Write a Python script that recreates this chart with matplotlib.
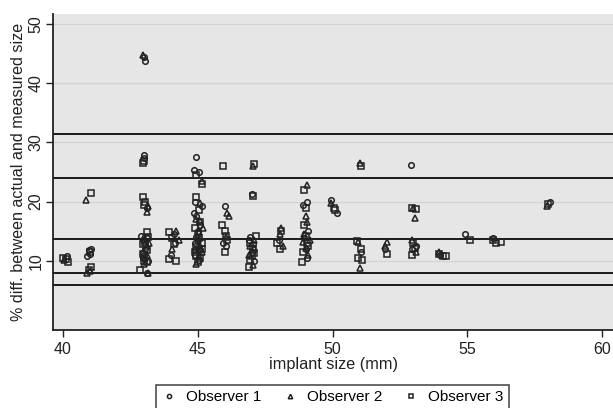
import matplotlib
matplotlib.use("Agg")
import matplotlib.pyplot as plt
from matplotlib.lines import Line2D

plt.rcParams['font.family'] = ['Liberation Sans', 'DejaVu Sans']

# Observer 1 (circles)
obs1_x = [40.15, 40.95, 41.0, 40.9, 41.05,
          43.0, 43.05, 43.0, 43.0, 43.1, 42.95, 43.05, 43.0, 43.15, 43.1, 42.9, 43.05, 42.95, 43.1,
          44.0, 44.15, 44.1,
          44.95, 44.85, 45.05, 44.9, 44.85, 45.1, 44.95, 45.0, 44.9, 45.05, 45.15, 44.9, 45.0, 45.1, 44.95,
          46.0, 45.95, 46.05,
          47.0, 46.95, 47.0, 47.1, 47.05, 46.9,
          48.0,
          48.9, 49.05, 49.1, 49.0, 48.95, 49.05,
          49.95, 50.15,
          51.05,
          51.95,
          52.9, 52.95, 53.1,
          54.0,
          54.9,
          55.95,
          58.05]
obs1_y = [10.8, 11.8, 11.2, 10.8, 12.0,
          44.5, 43.7, 27.8, 27.3, 19.0, 13.5, 12.0, 11.0, 10.0, 8.0, 14.2, 12.8, 10.5, 13.8,
          11.0, 13.0, 14.5,
          27.5, 25.3, 25.0, 20.0, 18.0, 16.0, 14.0, 12.0, 11.0, 10.2, 19.2, 13.0, 15.0, 11.8, 17.5,
          19.3, 13.0, 12.5,
          21.2, 14.0, 11.5, 10.0, 12.8, 13.5,
          13.5,
          19.5, 20.0, 15.0, 12.0, 13.8, 10.5,
          20.2, 18.0,
          11.5,
          12.0,
          26.2, 12.0, 12.5,
          11.0,
          14.5,
          13.8,
          20.0]

# Observer 2 (triangles)
obs2_x = [40.05, 40.85, 40.9, 41.0,
          42.95, 43.1, 43.15, 43.0, 43.1, 43.05, 43.15, 42.95, 43.2, 43.0, 43.1,
          44.2, 44.05, 44.3,
          45.15, 45.1, 44.95, 45.2, 45.0, 45.1, 44.95, 45.15, 45.05, 44.9, 45.05, 45.1,
          46.1, 46.15, 46.05,
          47.05, 46.95, 47.1, 47.05, 46.9, 47.1,
          48.1, 48.05, 48.15,
          49.05, 49.0, 49.05, 48.95, 49.1, 49.15, 49.0, 48.9,
          49.95,
          51.0, 51.0, 50.95,
          52.0, 51.95,
          53.05, 53.0, 52.95, 53.1,
          53.95,
          57.95]
obs2_y = [10.2, 20.2, 8.0, 8.3,
          44.8, 18.3, 19.3, 14.0, 12.5, 10.5, 8.0, 11.5, 13.0, 9.5, 11.0,
          15.0, 12.0, 13.5,
          23.5, 19.8, 17.0, 15.5, 13.5, 12.5, 9.5, 11.5, 14.8, 12.0, 10.8, 16.8,
          18.0, 17.5, 14.0,
          26.0, 12.5, 13.5, 9.3, 11.0, 12.2,
          15.5, 14.5, 12.5,
          22.8, 17.5, 16.5, 14.5, 11.0, 13.5, 12.2, 13.2,
          19.8,
          26.5, 8.8, 13.2,
          13.2, 12.5,
          17.3, 19.0, 13.5, 11.5,
          11.5,
          19.2]

# Observer 3 (squares)
obs3_x = [40.0, 40.1, 40.2,
          41.05, 41.0, 41.05, 40.95,
          42.95, 43.0, 42.95, 43.05, 43.0, 43.1, 42.95, 43.1, 43.0, 42.85, 43.1, 43.15, 43.05, 42.95,
          43.95, 44.1, 44.2, 43.95, 44.05,
          44.95, 45.15, 44.95, 45.05, 45.1, 44.9, 45.0, 45.15, 44.95, 45.1, 45.0, 44.9, 45.05, 44.95, 45.15,
          45.95, 45.9, 46.0, 46.1, 46.0, 46.05,
          47.1, 47.05, 46.95, 47.15, 47.0, 46.9, 47.05, 47.1, 46.95,
          47.95, 48.05, 48.1,
          48.95, 49.0, 48.95, 49.05, 48.9, 48.85, 49.1, 49.0,
          50.05, 50.1,
          51.05, 50.9, 51.05, 50.95, 51.1,
          52.0,
          52.95, 53.1, 53.0, 52.95, 53.05,
          53.95, 54.1, 54.2,
          55.1,
          55.95, 56.05, 56.25,
          58.0]
obs3_y = [10.5, 10.3, 9.8,
          21.4, 11.5, 9.0, 8.5,
          26.5, 26.9, 20.8, 20.0, 19.5, 14.8, 12.8, 11.8, 10.0, 8.5, 9.8, 14.0, 13.2, 11.2,
          14.8, 12.8, 10.0, 10.3, 13.8,
          24.5, 23.0, 20.8, 18.5, 16.5, 15.5, 14.5, 13.0, 12.3, 10.5, 9.8, 11.5, 13.8, 10.8, 12.0,
          26.0, 16.0, 15.0, 13.5, 11.5, 14.2,
          26.3, 21.0, 13.0, 14.2, 10.8, 9.0, 12.0, 11.3, 10.2,
          13.0, 12.0, 15.0,
          22.0, 19.0, 16.0, 13.0, 11.5, 9.8, 12.5, 14.2,
          19.0, 18.5,
          26.0, 13.3, 12.0, 10.5, 10.2,
          11.2,
          19.0, 18.8, 13.0, 11.0, 12.2,
          11.2, 10.8, 10.8,
          13.5,
          13.5, 13.0, 13.2,
          19.6]

ref_lines = [31.4, 23.9, 13.6, 7.9, 5.9]
x_ticks = [40, 45, 50, 55, 60]
y_ticks = [10, 20, 30, 40, 50]
labels = ['Observer 1', 'Observer 2', 'Observer 3']

fig = plt.figure(figsize=(6.13, 4.08), dpi=100)
fig.patch.set_facecolor('white')
ax = fig.add_axes([0.0865, 0.191, 0.9135, 0.775])
ax.set_facecolor('#e6e6e6')

ax.set_xlim(39.63, 60.4)
ax.set_ylim(-1.7, 51.7)

for y in y_ticks:
    ax.axhline(y, color='#d4d4d4', lw=0.9, zorder=0)
for y in ref_lines:
    ax.axhline(y, color='#1a1a1a', lw=1.4, zorder=1)

mk = dict(linestyle='none', markerfacecolor='none', markeredgecolor='#222222',
          markeredgewidth=1.1)
ax.plot(obs1_x, obs1_y, marker='o', markersize=4.0, zorder=3, **mk)
ax.plot(obs2_x, obs2_y, marker='^', markersize=4.2, zorder=3, **mk)
ax.plot(obs3_x, obs3_y, marker='s', markersize=3.8, zorder=3, **mk)

ax.set_xticks(x_ticks)
ax.set_yticks(y_ticks)
ax.tick_params(axis='both', direction='out', length=5, width=1, color='#222',
               labelsize=11.5, labelcolor='#222')
ax.tick_params(axis='y', pad=2)
for lab in ax.get_yticklabels():
    lab.set_rotation(90)
    lab.set_va('center')
for s in ['top', 'right']:
    ax.spines[s].set_visible(False)
for s in ['left', 'bottom']:
    ax.spines[s].set_color('#222')
    ax.spines[s].set_linewidth(1.3)

ax.set_xlabel('implant size (mm)', fontsize=11.7, color='#222', labelpad=0)
ax.set_ylabel('% diff. between actual and measured size', fontsize=11.6, color='#222', labelpad=2)

handles = [Line2D([], [], marker='o', markersize=3.0, **mk),
           Line2D([], [], marker='^', markersize=3.2, **mk),
           Line2D([], [], marker='s', markersize=2.8, **mk)]
leg = fig.legend(handles, labels, loc='center', bbox_to_anchor=(0.542, 0.027), ncol=3,
                 frameon=True, fancybox=False, fontsize=11, handlelength=1.0,
                 handletextpad=0.6, columnspacing=1.4, borderpad=0.35, edgecolor='#222')
leg.get_frame().set_linewidth(1.2)

fig.savefig('out.png', dpi=100)
